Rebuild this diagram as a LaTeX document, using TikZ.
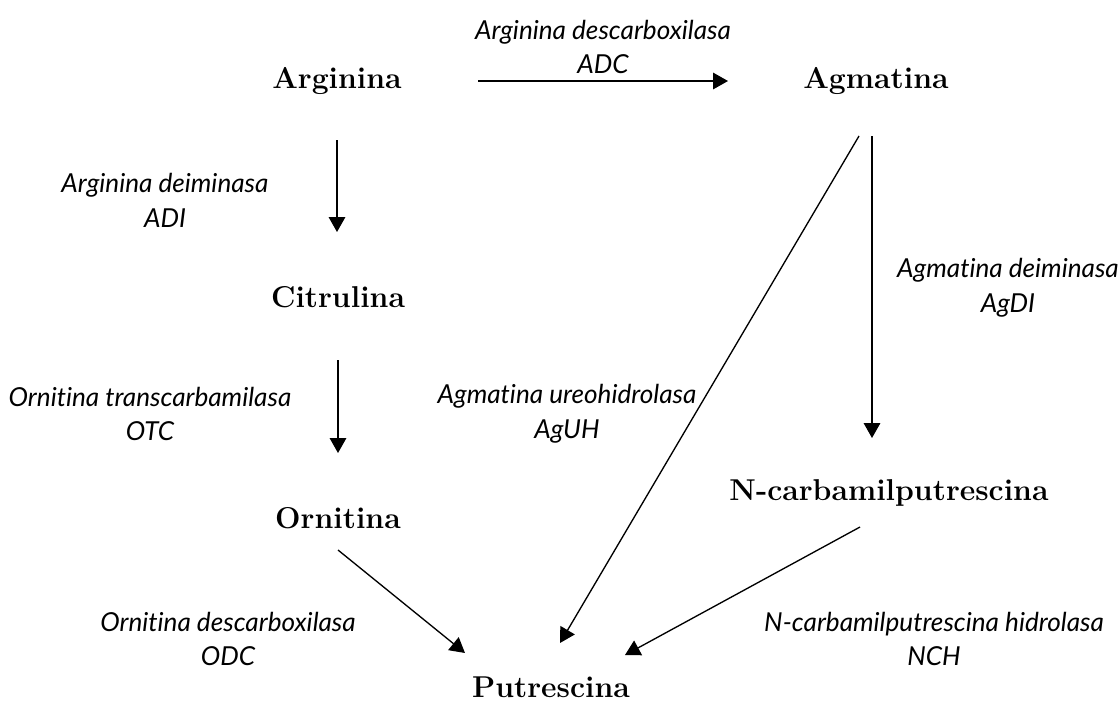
\documentclass[tikz,border=0pt]{standalone}
\usepackage{fontspec}
\newfontfamily\labfont[Ligatures={NoCommon,NoRare}]{Lato}
\usetikzlibrary{arrows.meta,calc}
\begin{document}
\begin{tikzpicture}[x=0.375pt,y=-0.375pt,
  comp/.style={inner sep=0pt,anchor=base,font=\fontsize{11.3}{13}\selectfont\bfseries},
  enz/.style={inner sep=0pt,align=center,font=\labfont\itshape\fontsize{9.8}{13.1}\selectfont},
  arr/.style={line width=0.5pt,-{Triangle[length=5.6pt,width=6.2pt]}}]
\useasboundingbox (0,0) rectangle (1120,700);
\node[comp] (arg) at (337,88) {Arginina};
\node[comp] (agm) at (876,88) {Agmatina};
\node[comp] (cit) at (338,307) {Citrulina};
\node[comp] (orn) at (338,528) {Ornitina};
\node[comp] (ncp) at (889,500) {N-carbamilputrescina};
\node[comp] (put) at (551,697) {Putrescina};
\node[enz] (adc) at (603,47) {Arginina descarboxilasa\\ADC};
\node[enz] (adi) at (165,200) {Arginina deiminasa\\ADI};
\node[enz] (otc) at (150,414) {Ornitina transcarbamilasa\\OTC};
\node[enz] (aguh) at (567,414) {Agmatina ureohidrolasa\\AgUH};
\node[enz] (agdi) at (1008,288) {Agmatina deiminasa\\AgDI};
\node[enz] (odc) at (228,639) {Ornitina descarboxilasa\\ODC};
\node[enz] (nch) at (934,639) {N-carbamilputrescina hidrolasa\\NCH};
\draw[arr] ($(arg.base)+(141,-7)$) -- ($(agm.base)+(-148,-7)$);
\draw[arr] ($(arg.base)+(0,52)$) -- ($(cit.base)+(-1,-75)$);
\draw[arr] ($(cit.base)+(0,53)$) -- ($(orn.base)+(0,-75)$);
\draw[arr] ($(orn.base)+(0,22)$) -- ($(put.base)+(-86,-44)$);
\draw[arr] ($(agm.base)+(-17,48)$) -- ($(put.base)+(9,-54)$);
\draw[arr] ($(agm.base)+(-4,48)$) -- ($(ncp.base)+(-17,-62)$);
\draw[arr] ($(ncp.base)+(-29,27)$) -- ($(put.base)+(74,-42)$);
\end{tikzpicture}
\end{document}
